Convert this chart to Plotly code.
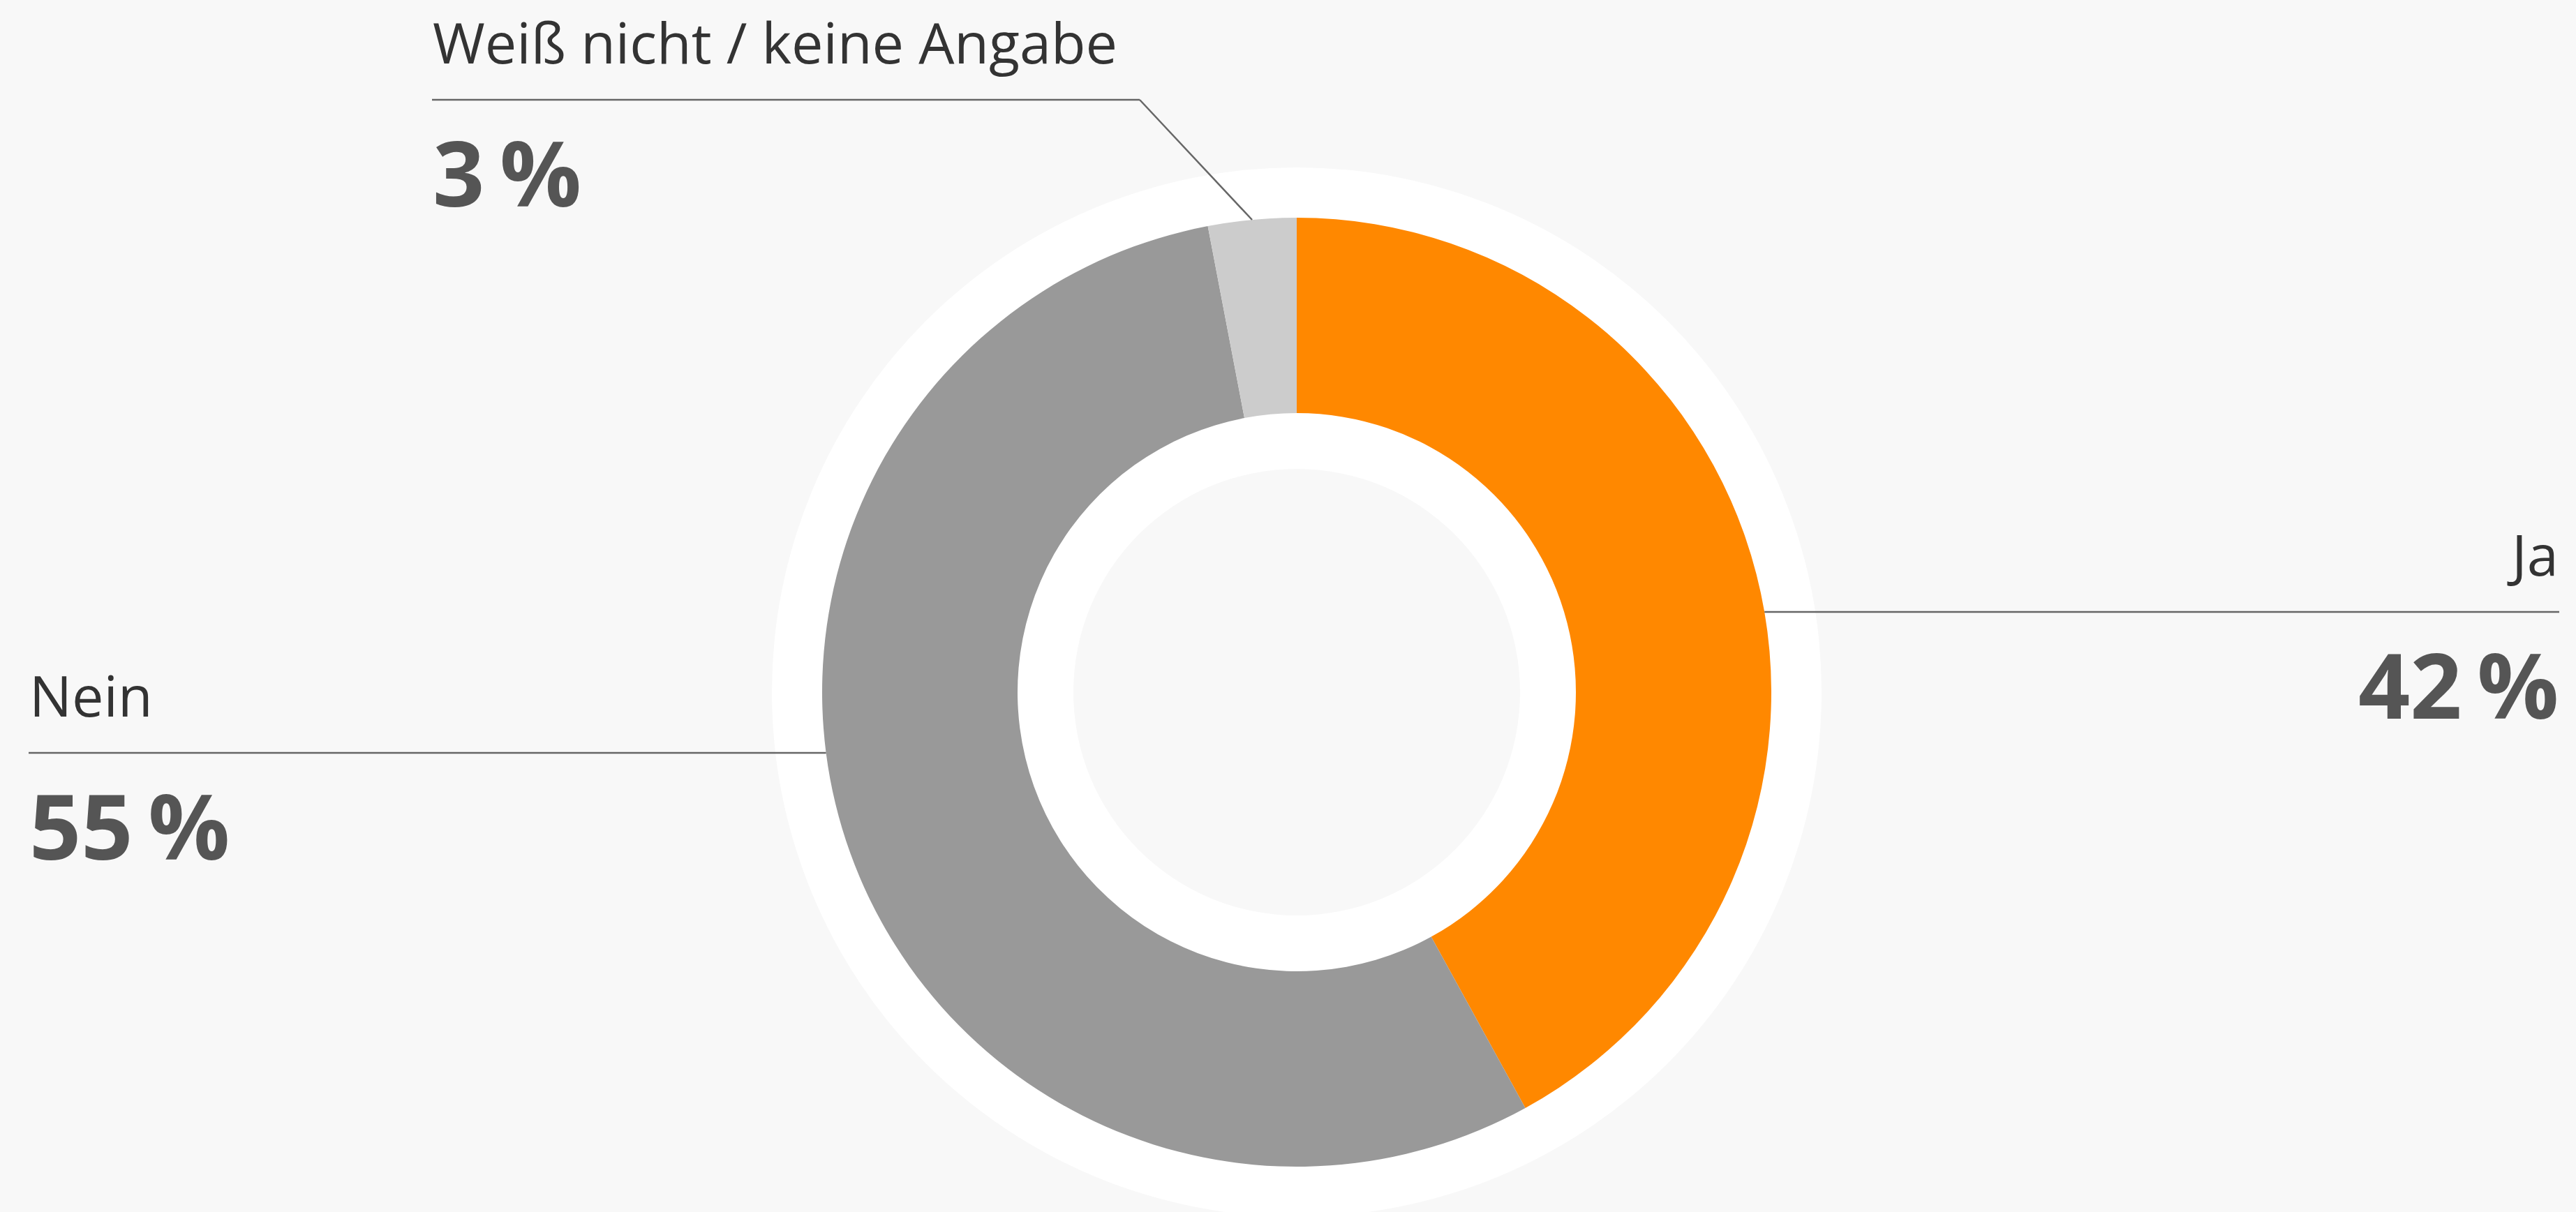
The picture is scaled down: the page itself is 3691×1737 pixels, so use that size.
import math
import plotly.graph_objects as go

# ---------------- data ----------------
categories = ["Ja", "Nein", "Weiß nicht / keine Angabe"]
values = [42, 55, 3]
value_labels = ["42\u2009%", "55\u2009%", "3\u2009%"]
colors = ["#ff8800", "#999999", "#cccccc"]

# ---------------- layout constants ----------------
W, H = 3691, 1737
CX, CY = 1858, 992          # donut centre (px)
R_OUT, R_IN = 680, 400      # coloured ring
R_HALO, R_CORE = 752, 320   # white halo / inner background disc
BG = "#f8f8f8"
LABEL_SIZE, VALUE_SIZE = 81, 130
ASC = 1.069                 # Open Sans ascent (em)

# label placement per category: (line y, side, text x)
label_pos = {
    "Ja": dict(line_y=877, side="right", x=3667),
    "Nein": dict(line_y=1079, side="left", x=41),
    "Weiß nicht / keine Angabe": dict(line_y=143, side="top", x=619, bend_x=1633),
}


def xp(x):
    return x / W


def yp(y):
    return 1 - y / H


fig = go.Figure(
    go.Pie(
        labels=categories,
        values=values,
        sort=False,
        direction="clockwise",
        rotation=0,
        hole=R_IN / R_OUT,
        marker=dict(colors=colors, line=dict(width=0)),
        textinfo="none",
        hoverinfo="skip",
        showlegend=False,
        domain=dict(x=[xp(CX - R_OUT), xp(CX + R_OUT)],
                    y=[yp(CY + R_OUT), yp(CY - R_OUT)]),
    )
)

shapes = [
    dict(type="circle", xref="paper", yref="paper",
         x0=xp(CX - R_HALO), x1=xp(CX + R_HALO),
         y0=yp(CY + R_HALO), y1=yp(CY - R_HALO),
         fillcolor="white", line=dict(width=0), layer="below"),
    dict(type="circle", xref="paper", yref="paper",
         x0=xp(CX - R_CORE), x1=xp(CX + R_CORE),
         y0=yp(CY + R_CORE), y1=yp(CY - R_CORE),
         fillcolor=BG, line=dict(width=0), layer="below"),
]

annotations = []
total = sum(values)
cum = 0
LINE = dict(color="#666666", width=2.5)
for cat, val, vl in zip(categories, values, value_labels):
    p = label_pos[cat]
    mid_angle = math.radians((cum + val / 2) / total * 360)
    cum += val
    ly = p["line_y"]
    if p["side"] == "top":
        ex = CX + R_OUT * math.sin(mid_angle)
        ey = CY - R_OUT * math.cos(mid_angle)
        shapes.append(dict(type="line", xref="paper", yref="paper",
                           x0=xp(p["x"]), x1=xp(p["bend_x"]), y0=yp(ly), y1=yp(ly),
                           line=LINE, layer="above"))
        shapes.append(dict(type="line", xref="paper", yref="paper",
                           x0=xp(p["bend_x"]), x1=xp(ex), y0=yp(ly), y1=yp(ey),
                           line=LINE, layer="above"))
        xanchor = "left"
    else:
        dx = math.sqrt(R_OUT ** 2 - (ly - CY) ** 2)
        ex = CX + dx if p["side"] == "right" else CX - dx
        shapes.append(dict(type="line", xref="paper", yref="paper",
                           x0=xp(min(ex, p["x"])), x1=xp(max(ex, p["x"])),
                           y0=yp(ly), y1=yp(ly), line=LINE, layer="above"))
        xanchor = "right" if p["side"] == "right" else "left"

    label_base = ly - 53
    value_base = ly + 152
    annotations.append(dict(
        text=cat, xref="paper", yref="paper", x=xp(p["x"]),
        y=yp(label_base - ASC * LABEL_SIZE), xanchor=xanchor, yanchor="top",
        showarrow=False, borderpad=0,
        font=dict(family="Open Sans", size=LABEL_SIZE, color="#333333"),
    ))
    annotations.append(dict(
        text=f"<b>{vl}</b>", xref="paper", yref="paper", x=xp(p["x"]),
        y=yp(value_base - ASC * VALUE_SIZE), xanchor=xanchor, yanchor="top",
        showarrow=False, borderpad=0,
        font=dict(family="Open Sans", size=VALUE_SIZE, color="#555555"),
    ))

fig.update_layout(
    width=W, height=H, autosize=False,
    margin=dict(l=0, r=0, t=0, b=0),
    paper_bgcolor=BG, plot_bgcolor=BG,
    shapes=shapes, annotations=annotations,
    showlegend=False,
)

fig.write_html(
    "out.html",
    config=dict(displayModeBar=False),
    post_script="document.body.style.margin='0';document.body.style.overflow='hidden';",
)
